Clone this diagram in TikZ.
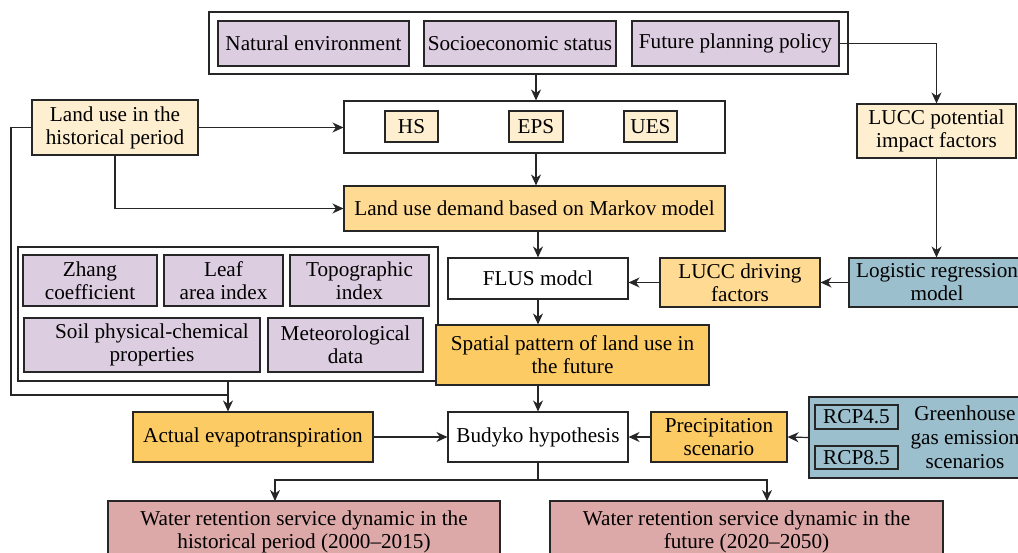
\documentclass[tikz,border=0pt]{standalone}
\usepackage{fontspec}
\setmainfont{Liberation Serif}
\usetikzlibrary{arrows.meta,calc}
\definecolor{lav}{HTML}{DDCDE0}
\definecolor{cream}{HTML}{FEEFD0}
\definecolor{lorange}{HTML}{FFDA93}
\definecolor{dorange}{HTML}{FDCB64}
\definecolor{bgrey}{HTML}{9CBFCD}
\definecolor{pinkr}{HTML}{DCA8A8}
\definecolor{linec}{HTML}{262626}
\begin{document}
\begin{tikzpicture}[x=1pt,y=-1pt,
  box/.style={draw=linec, line width=1.1pt, inner sep=0pt, align=center, font=\fontsize{21.2}{23}\selectfont},
  arr/.style={-{Stealth[length=11pt,width=10pt,inset=3.5pt]}, line width=1.2pt, draw=linec},
  ln/.style={line width=1.2pt, draw=linec}]
\useasboundingbox (0,0) rectangle (1018,553);
\clip (0,0) rectangle (1018,553);
% outer groups
\node[box, fill=white, minimum width=639, minimum height=62] (top) at (528.5,43) {};
\node[box, fill=white, minimum width=381, minimum height=52] (hsbox) at (534.5,127) {};
\node[box, fill=white, minimum width=420, minimum height=134] (leftbox) at (228,314) {};
\node[box, fill=bgrey, minimum width=221, minimum height=81] (ghg) at (919.5,437.5) {};
% top inner
\node[box, fill=lav, minimum width=191, minimum height=45] (nat) at (313.5,43.5) {Natural environment};
\node[box, fill=lav, minimum width=192, minimum height=45] (soc) at (520,43.5) {Socioeconomic status};
\node[box, fill=lav, minimum width=207, minimum height=45] (fut) at (735.5,43.5) {Future planning policy};
% HS row
\node[box, fill=cream, minimum width=53, minimum height=31] (hs) at (411.5,126.5) {HS};
\node[box, fill=cream, minimum width=54, minimum height=31] (eps) at (536,126.5) {EPS};
\node[box, fill=cream, minimum width=53, minimum height=31] (ues) at (650.5,126.5) {UES};
\node[box, fill=cream, minimum width=166, minimum height=55] (hist) at (115,127.5) {Land use in the\\historical period};
\node[box, fill=lorange, minimum width=381, minimum height=45] (demand) at (534.5,208.5) {Land use demand based on Markov model};
\node[box, fill=cream, minimum width=159, minimum height=54] (lpot) at (936.5,131) {LUCC potential\\impact factors};
% FLUS row
\node[box, fill=white, minimum width=180, minimum height=41] (flus) at (538,278.5) {FLUS modcl};
\node[box, fill=lorange, minimum width=160, minimum height=49] (drive) at (740,282.5) {LUCC driving\\factors};
\node[box, fill=bgrey, minimum width=176, minimum height=49] (logit) at (937,282.5) {Logistic regression\\model};
% left group inner
\node[box, fill=lav, minimum width=134, minimum height=51] (zhang) at (90,280.5) {Zhang\\coefficient};
\node[box, fill=lav, minimum width=119, minimum height=51] (leaf) at (223.5,280.5) {Leaf\\area index};
\node[box, fill=lav, minimum width=139, minimum height=51] (topo) at (359.5,280.5) {Topographic\\index};
\node[box, fill=lav, minimum width=236, minimum height=54] (soil) at (142,345) {\hspace*{20pt}Soil physical-chemical\\\hspace*{20pt}properties};
\node[box, fill=lav, minimum width=155, minimum height=54] (meteo) at (345.5,345) {Meteorological\\data};
% spatial
\node[box, fill=dorange, minimum width=273, minimum height=60] (spatial) at (572.5,355) {Spatial pattern of land use in\\the future};
% Budyko row
\node[box, fill=white, minimum width=180, minimum height=50] (budyko) at (538,437) {Budyko hypothesis};
\node[box, fill=dorange, minimum width=240, minimum height=50] (actual) at (253,437) {Actual evapotranspiration};
\node[box, fill=dorange, minimum width=136, minimum height=50] (precip) at (719,437) {Precipitation\\scenario};
\node[box, minimum width=83, minimum height=24] (rcp45) at (856.5,417) {RCP4.5};
\node[box, minimum width=83, minimum height=23] (rcp85) at (856.5,457.5) {RCP8.5};
\node[align=center, inner sep=0pt, font=\fontsize{21.2}{24}\selectfont] (ghgt) at (965,437) {Greenhouse\\gas emission\\scenarios};
% bottom
\node[box, fill=pinkr, minimum width=392, minimum height=62] (wr1) at (304,532) {Water retention service dynamic in the\\historical period (2000--2015)};
\node[box, fill=pinkr, minimum width=393, minimum height=62] (wr2) at (746.5,532) {Water retention service dynamic in the\\future (2020--2050)};
% coordinates
\coordinate (lc) at (11,395);
\coordinate (jn) at (228,395);
\coordinate (bj) at (538,480);
\coordinate (a1) at (275,501);
\coordinate (a2) at (767,501);
% connectors
\draw[arr] (eps.center |- top.south) -- (eps.center |- hsbox.north);
\draw[arr] (fut.east) -| (lpot.north);
\draw[arr] (hist.east) -- (hist.east -| hsbox.west);
\draw[arr] (hist.south) |- (demand.west);
\draw[arr] (eps.center |- hsbox.south) -- (eps.center |- demand.north);
\draw[arr] (flus.north |- demand.south) -- (flus.north);
\draw[arr] (lpot.south) -- (lpot.south |- logit.north);
\draw[arr] (logit.west) -- (drive.east);
\draw[arr] (drive.west) -- (drive.west -| flus.east);
\draw[arr] (flus.south) -- (flus.south |- spatial.north);
\draw[arr] (budyko.north |- spatial.south) -- (budyko.north);
\draw[ln] (hist.west) -| (lc) -- (jn);
\draw[arr] (leftbox.south) -- (leftbox.south |- actual.north);
\draw[arr] (actual.east) -- (budyko.west);
\draw[arr] (precip.west) -- (budyko.east);
\draw[arr] (ghg.west) -- (precip.east);
\draw[ln] (budyko.south) -- (bj);
\draw[arr] (bj) -| (a1);
\draw[arr] (bj) -| (a2);
\end{tikzpicture}
\end{document}
